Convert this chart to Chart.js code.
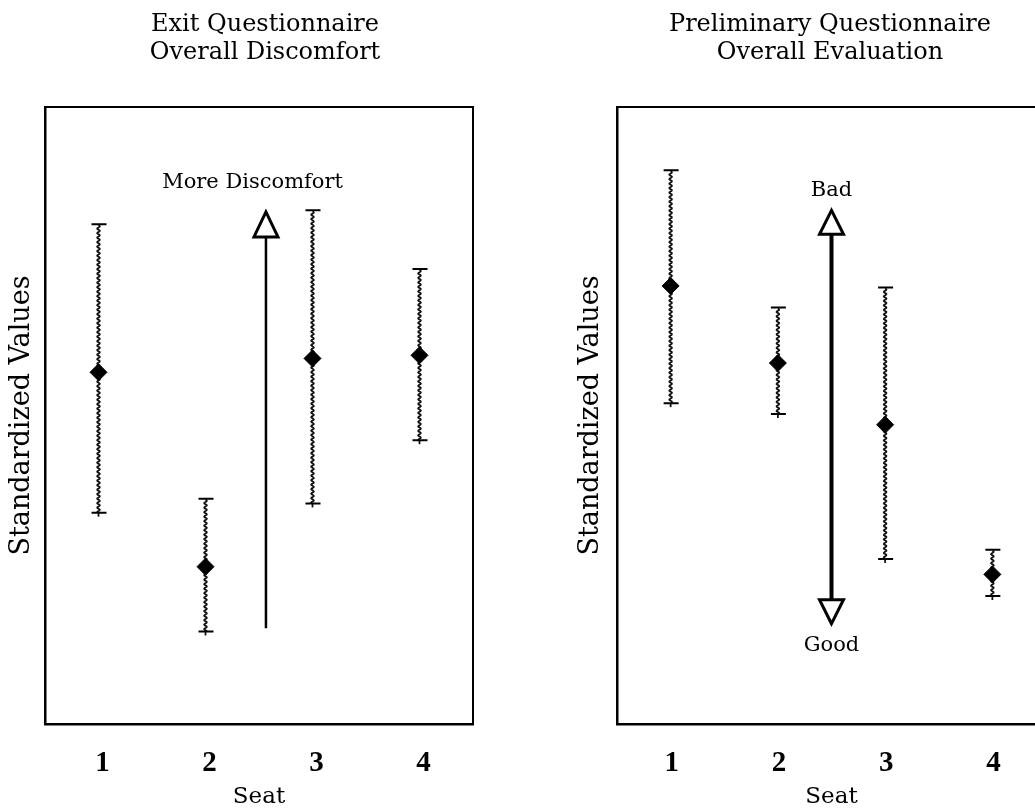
<!DOCTYPE html>
<html>
<head>
<meta charset="utf-8">
<title>Seat questionnaires</title>
<script src="https://cdn.jsdelivr.net/npm/chart.js@4.4.0/dist/chart.umd.min.js"></script>
<style>
  html, body { margin: 0; padding: 0; background: #fff; overflow: hidden; width: 1035px; height: 811px; }
  canvas { position: absolute; top: 0; }
  #exitChart { left: 0; }
  #prelimChart { left: 560px; }
</style>
</head>
<body>
<canvas id="exitChart" width="530" height="811"></canvas>
<canvas id="prelimChart" width="540" height="811"></canvas>
<script>
// Seats along the x axis
const seats = [1, 2, 3, 4];
const seatLabels = ['1', '2', '3', '4'];

// Exit questionnaire: overall discomfort (standardized values)
const exitMean = [0.28, -0.98, 0.37, 0.39];
const exitLow  = [-0.63, -1.40, -0.57, -0.16];
const exitHigh = [1.24, -0.54, 1.33, 0.95];

// Preliminary questionnaire: overall evaluation (standardized values)
const prelimMean = [0.84, 0.34, -0.06, -1.03];
const prelimLow  = [0.08, 0.01, -0.93, -1.17];
const prelimHigh = [1.59, 0.70, 0.83, -0.87];

// Direction arrows: x position and [tail, tip] values
const exitArrowX = [2.565];
const exitArrowY = [-1.38, 1.32];
const prelimArrowX = [2.5];
const prelimArrowY = [-1.35, 1.33];

// Direction notes
const exitNotes = ['More Discomfort'];
const exitNoteX = [2.44];
const exitNoteY = [1.51];
const prelimNotes = ['Bad', 'Good'];
const prelimNoteX = [2.5, 2.5];
const prelimNoteY = [1.46, -1.49];

const Y_MIN = -2, Y_MAX = 2;
const X_MIN = 0.5, X_MAX = 4.5;

const SERIF = "'DejaVu Serif', serif";
const TICK_FONT = "'Liberation Serif', 'Times New Roman', serif";

// Wavy vertical stroke used for the error bar stems
function wavyStem(ctx, x, yTop, yBottom) {
  const amp = 1.3, period = 4.5;
  ctx.beginPath();
  ctx.moveTo(x, yTop);
  for (let d = 0; d <= yBottom - yTop; d += 0.5) {
    ctx.lineTo(x + amp * Math.sin(d / period * 2 * Math.PI), yTop + d);
  }
  ctx.stroke();
}

// Error bars: wavy stem, plain cap on top, crossed cap at the bottom
const errorBarPlugin = {
  id: 'errorBars',
  beforeDatasetsDraw(chart) {
    const ctx = chart.ctx;
    const xs = chart.scales.x, ys = chart.scales.y;
    chart.data.datasets.forEach(ds => {
      if (!ds.errLow) return;
      ds.data.forEach((pt, i) => {
        const px = xs.getPixelForValue(pt.x);
        const top = ys.getPixelForValue(ds.errHigh[i]);
        const bot = ys.getPixelForValue(ds.errLow[i]);
        ctx.save();
        ctx.strokeStyle = '#111';
        ctx.lineWidth = 1.8;
        wavyStem(ctx, px, top + 1, bot);
        ctx.lineWidth = 1.8;
        ctx.beginPath();
        ctx.moveTo(px, bot);
        ctx.lineTo(px, bot + 4);
        ctx.stroke();
        ctx.strokeStyle = '#000';
        ctx.lineWidth = 2;
        ctx.beginPath();
        ctx.moveTo(px - 7, top);
        ctx.lineTo(px + 8, top);
        ctx.moveTo(px - 7, bot);
        ctx.lineTo(px + 8, bot);
        ctx.stroke();
        ctx.restore();
      });
    });
  }
};

function arrowHead(ctx, x, tipY, dir, w, h) {
  // dir = -1 points up, +1 points down
  const baseY = tipY - dir * h;
  ctx.beginPath();
  ctx.moveTo(x, tipY);
  ctx.lineTo(x - w / 2, baseY);
  ctx.lineTo(x + w / 2, baseY);
  ctx.closePath();
  ctx.fillStyle = '#fff';
  ctx.fill();
  ctx.stroke();
}

// Direction arrow and its notes
const directionPlugin = {
  id: 'direction',
  afterDatasetsDraw(chart, args, opts) {
    const ctx = chart.ctx;
    const xs = chart.scales.x, ys = chart.scales.y;
    const ax = xs.getPixelForValue(opts.arrowX[0]);
    const tail = ys.getPixelForValue(opts.arrowY[0]);
    const tip = ys.getPixelForValue(opts.arrowY[1]);
    const h = opts.headH, w = opts.headW;
    ctx.save();
    ctx.strokeStyle = '#000';
    ctx.lineJoin = 'miter';
    ctx.lineWidth = opts.shaftWidth;
    ctx.beginPath();
    ctx.moveTo(ax, opts.twoWay ? tail - h : tail);
    ctx.lineTo(ax, tip + h);
    ctx.stroke();
    ctx.lineWidth = 3;
    arrowHead(ctx, ax, tip, -1, w, h);
    if (opts.twoWay) arrowHead(ctx, ax, tail, 1, w, h);
    ctx.fillStyle = '#000';
    ctx.font = "21px " + SERIF;
    ctx.textAlign = 'center';
    ctx.textBaseline = 'middle';
    opts.notes.forEach((t, i) => {
      ctx.fillText(t, xs.getPixelForValue(opts.noteX[i]), ys.getPixelForValue(opts.noteY[i]));
    });
    ctx.restore();
  }
};

function buildChart(id, cfg) {
  return new Chart(document.getElementById(id), {
    type: 'scatter',
    data: {
      datasets: [{
        data: seats.map((s, i) => ({ x: s, y: cfg.mean[i] })),
        errLow: cfg.low,
        errHigh: cfg.high,
        pointStyle: 'rectRot',
        pointRadius: 8.5,
        pointHoverRadius: 8.5,
        pointBackgroundColor: '#000',
        pointBorderColor: '#000',
        pointBorderWidth: 1
      }]
    },
    plugins: [errorBarPlugin, directionPlugin],
    options: {
      responsive: false,
      animation: false,
      events: [],
      plugins: {
        legend: { display: false },
        tooltip: { enabled: false },
        title: {
          display: true,
          text: cfg.title,
          color: '#000',
          font: { family: SERIF, size: 24, weight: 'normal', lineHeight: 28 / 24 },
          padding: { top: 11, bottom: 40 }
        },
        direction: cfg.direction
      },
      scales: {
        x: {
          type: 'linear',
          position: 'bottom',
          min: X_MIN, max: X_MAX,
          afterBuildTicks: s => { s.ticks = seats.map(v => ({ value: v })); },
          afterFit: s => { s.height = 87; },
          grid: { display: false, drawTicks: false },
          border: { display: true, color: '#000', width: 2.5 },
          ticks: {
            color: '#000',
            padding: 22,
            labelOffset: cfg.labelOffset,
            font: { family: TICK_FONT, size: 29, weight: 'bold', lineHeight: 1.2 },
            callback: (v) => seatLabels[seats.indexOf(v)]
          },
          title: {
            display: true, text: 'Seat', color: '#000',
            font: { family: SERIF, size: 23, lineHeight: 1.2 },
            padding: { top: 0, bottom: 0 }
          }
        },
        x2: {
          type: 'linear',
          position: 'top',
          min: X_MIN, max: X_MAX,
          afterFit: s => { s.height = 0; },
          grid: { display: false, drawTicks: false },
          border: { display: true, color: '#000', width: 2 },
          ticks: { display: false }
        },
        y: {
          type: 'linear',
          position: 'left',
          min: Y_MIN, max: Y_MAX,
          afterFit: s => { s.width = cfg.yAxisWidth; },
          grid: { display: false, drawTicks: false },
          border: { display: true, color: '#000', width: 2.5 },
          ticks: { display: false },
          title: {
            display: true, text: 'Standardized Values', color: '#000',
            font: { family: SERIF, size: 27, lineHeight: 1.2 },
            padding: { top: cfg.yTitlePad, bottom: 0 }
          }
        },
        y2: {
          type: 'linear',
          position: 'right',
          min: Y_MIN, max: Y_MAX,
          afterFit: s => { s.width = cfg.rightGap; },
          grid: { display: false, drawTicks: false },
          border: { display: true, color: '#000', width: 2 },
          ticks: { display: false }
        }
      }
    }
  });
}

buildChart('exitChart', {
  title: ['Exit Questionnaire', 'Overall Discomfort'],
  mean: exitMean, low: exitLow, high: exitHigh,
  yAxisWidth: 45, yTitlePad: 6, rightGap: 57, labelOffset: 4,
  direction: {
    arrowX: exitArrowX, arrowY: exitArrowY, twoWay: false,
    shaftWidth: 2.5, headW: 24, headH: 25,
    notes: exitNotes, noteX: exitNoteX, noteY: exitNoteY
  }
});

buildChart('prelimChart', {
  title: ['Preliminary Questionnaire', 'Overall Evaluation'],
  mean: prelimMean, low: prelimLow, high: prelimHigh,
  yAxisWidth: 57, yTitlePad: 15, rightGap: 54, labelOffset: 1,
  direction: {
    arrowX: prelimArrowX, arrowY: prelimArrowY, twoWay: true,
    shaftWidth: 4, headW: 24, headH: 24,
    notes: prelimNotes, noteX: prelimNoteX, noteY: prelimNoteY
  }
});
</script>
</body>
</html>
